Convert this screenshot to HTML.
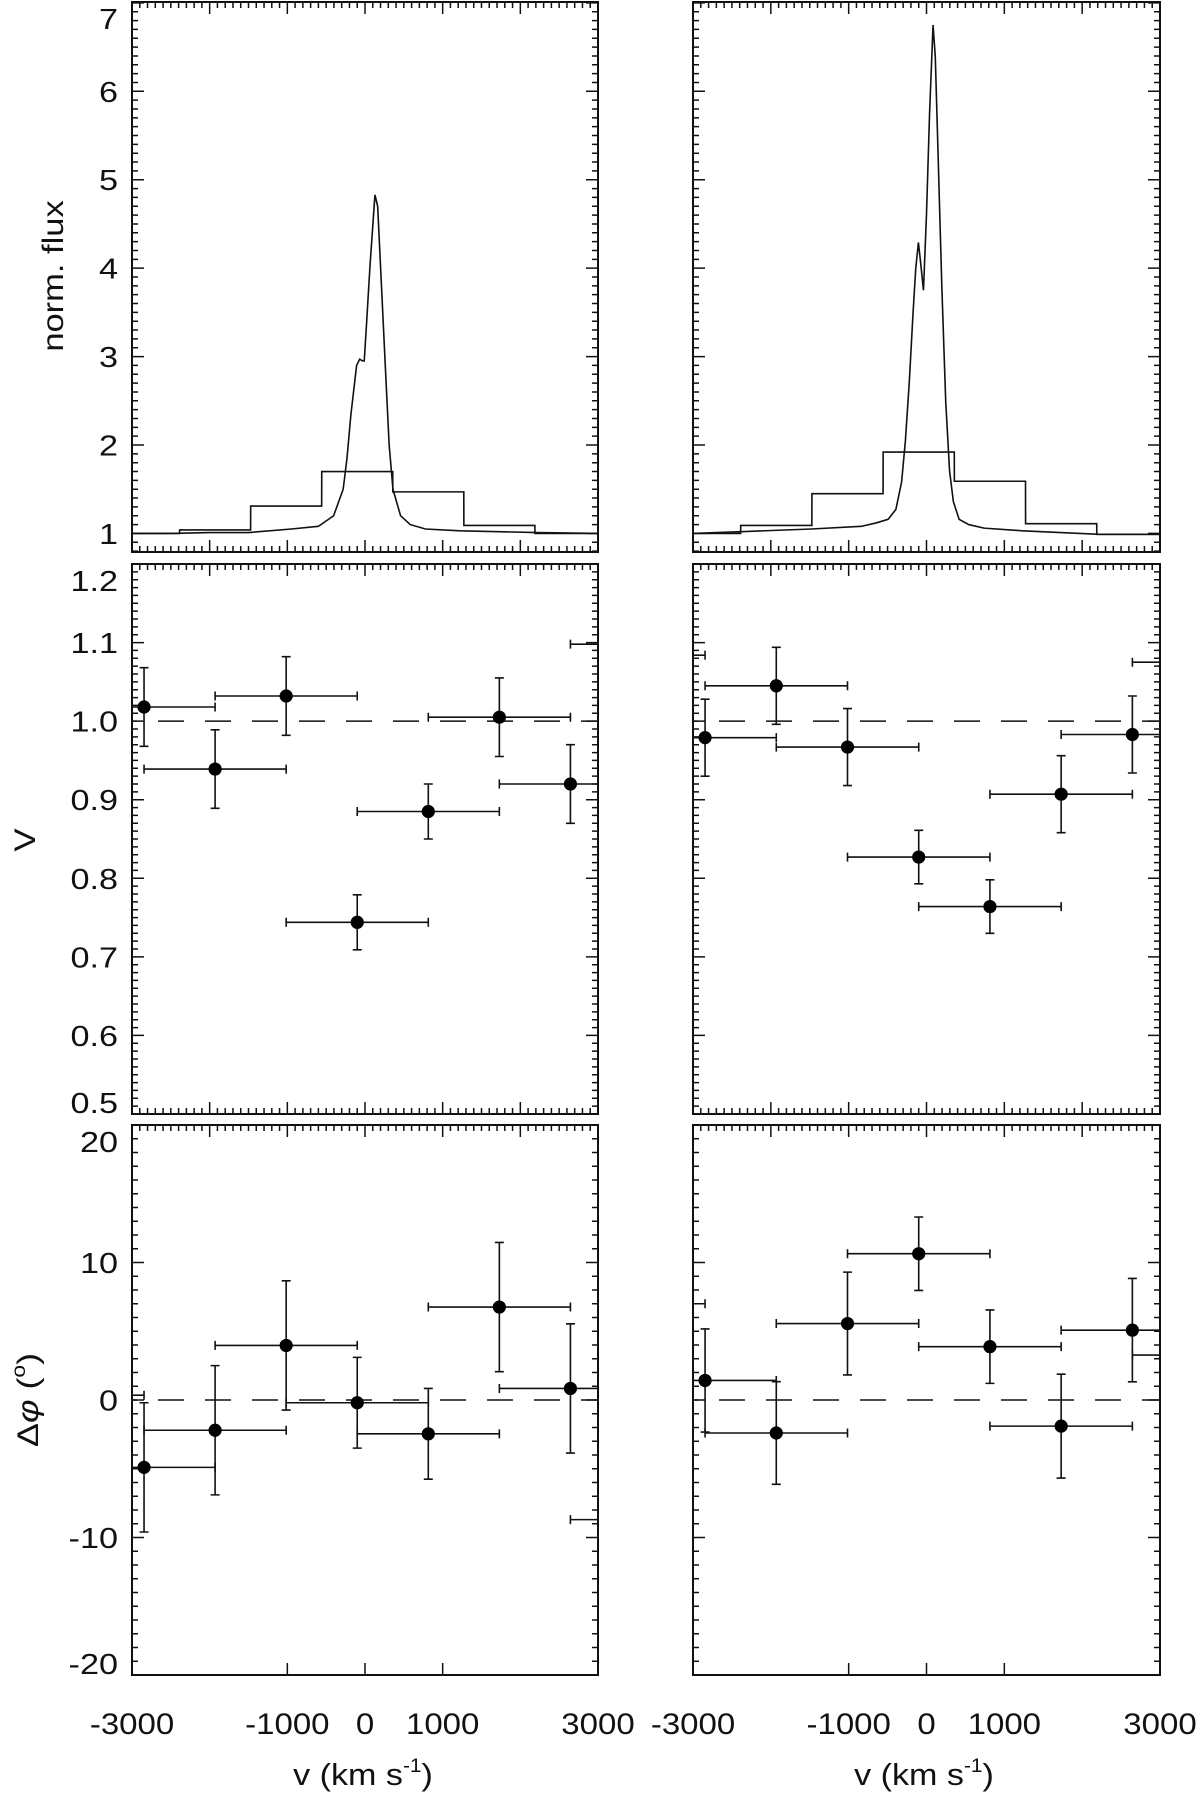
<!DOCTYPE html>
<html><head><meta charset="utf-8"><style>
html,body{margin:0;padding:0;background:#fff;}
svg{display:block;font-family:"Liberation Sans",sans-serif;}
</style></head><body>
<svg id="chart" width="1200" height="1793" viewBox="0 0 1200 1793" xmlns="http://www.w3.org/2000/svg"></svg>
<script>
// ---- data ----
const vCenters = [-2845, -1930, -1015, -100, 815, 1730, 2645];
const vHalfWidth = 915;
const binHalf = 457;
const vOut = [-3760, 3560];

const leftFluxBins = [1.0, 1.04, 1.31, 1.70, 1.47, 1.09, 1.0];
const rightFluxBins = [1.0, 1.09, 1.45, 1.92, 1.59, 1.11, 0.99];

const leftSpecV = [-3000,-2500,-2000,-1500,-947,-601,-404,-281,-232,-182,-108,-69,-30,-10,15,64,128,163,212,261,311,360,458,582,779,1223,2209,3000];
const leftSpecF = [1.0,1.0,1.01,1.01,1.05,1.08,1.2,1.5,1.85,2.34,2.9,2.97,2.95,2.95,3.3,4.02,4.83,4.7,3.8,2.9,2.0,1.5,1.2,1.1,1.05,1.03,1.01,1.0];
const rightSpecV = [-3000,-2381,-1479,-838,-641,-493,-394,-320,-271,-222,-173,-138,-104,-74,-39,0,39,84,113,148,197,247,296,345,419,542,739,1232,2218,3000];
const rightSpecF = [1.0,1.02,1.05,1.08,1.12,1.16,1.27,1.58,2.05,2.7,3.49,4.0,4.29,4.05,3.75,4.61,5.74,6.75,6.39,5.31,3.79,2.49,1.71,1.36,1.16,1.10,1.06,1.03,0.99,0.99];

const leftVis = [1.018, 0.939, 1.032, 0.744, 0.885, 1.005, 0.920];
const leftVisErr = [0.05, 0.05, 0.05, 0.035, 0.035, 0.05, 0.05];
const leftVisOut = [null, 1.098];
const rightVis = [0.979, 1.045, 0.967, 0.827, 0.764, 0.907, 0.983];
const rightVisErr = [0.049, 0.049, 0.049, 0.034, 0.034, 0.049, 0.049];
const rightVisOut = [1.084, 1.075];

const leftPhi = [-4.9, -2.2, 3.97, -0.2, -2.46, 6.76, 0.84];
const leftPhiErr = [4.7, 4.7, 4.7, 3.3, 3.3, 4.7, 4.7];
const leftPhiOut = [0.35, -8.7];
const rightPhi = [1.42, -2.4, 5.56, 10.64, 3.88, -1.9, 5.08];
const rightPhiErr = [3.75, 3.73, 3.74, 2.67, 2.67, 3.78, 3.76];
const rightPhiOut = [7.0, 3.27];

const fluxTicks = [1, 2, 3, 4, 5, 6, 7];
const visTicks = [0.5, 0.6, 0.7, 0.8, 0.9, 1.0, 1.1, 1.2];
const phiTicks = [-20, -10, 0, 10, 20];
const xTickLabels = [-3000, -1000, 0, 1000, 3000];

// ---- layout ----
const NS = "http://www.w3.org/2000/svg";
const svg = document.getElementById("chart");
const cols = [{x0: 132, x1: 598}, {x0: 693, x1: 1160}];
const rows = [
  {y0: 2, y1: 552, d0: 0.79, d1: 7.01, key: "flux"},
  {y0: 564, y1: 1114, d0: 0.5, d1: 1.2, key: "vis"},
  {y0: 1125, y1: 1675, d0: -20, d1: 20, key: "phi"}
];
function mk(tag, attrs, parent) {
  const e = document.createElementNS(NS, tag);
  for (const k in attrs) e.setAttribute(k, attrs[k]);
  (parent || svg).appendChild(e);
  return e;
}
function xs(c, v) { return c.x0 + (v + 3000) / 6000 * (c.x1 - c.x0); }
function ys(r, d) { return r.y1 - (d - r.d0) / (r.d1 - r.d0) * (r.y1 - r.y0); }

const defs = mk("defs", {});
let clipId = 0;

function panel(ci, ri) {
  const c = cols[ci], r = rows[ri];
  const g = mk("g", {});
  
  
  const cp = mk("clipPath", {id: "cp" + (++clipId)}, defs);
  mk("rect", {x: c.x0, y: r.y0, width: c.x1 - c.x0, height: r.y1 - r.y0}, cp);
  const inner = mk("g", {"clip-path": "url(#cp" + clipId + ")"}, g);
  return {g, inner, c, r};
}

function ticks(p) {
  const {g, c, r} = p;
  let d = "";
  for (let v = -3000; v <= 3000; v += 100) {
    const major = v % 1000 === 0;
    const L = major ? 12 : 6;
    const x = xs(c, v);
    if (r.key !== "phi") {
      d += `M${x},${r.y1}v${-L}`;
    } else if (major && Math.abs(v) <= 1000) {
      d += `M${x},${r.y1}v${-12}`;
    }
    d += `M${x},${r.y0}v${L}`;
  }
  let step, majStep;
  if (r.key === "flux") { step = 0.1; majStep = 1; }
  else if (r.key === "vis") { step = 0.01; majStep = 0.1; }
  else { step = 1; majStep = 10; }
  const n0 = Math.ceil(r.d0 / step - 1e-6), n1 = Math.floor(r.d1 / step + 1e-6);
  for (let n = n0; n <= n1; n++) {
    const v = n * step;
    const q = v / majStep;
    const major = Math.abs(q - Math.round(q)) < 1e-6;
    const L = major ? 12 : 6;
    const y = ys(r, v);
    d += `M${c.x0},${y}h${L}M${c.x1},${y}h${-L}`;
  }
  const t = mk("path", {d, stroke: "#111", "stroke-width": 1.5, fill: "none"}, g);
  
  
  const f = mk("rect", {x: c.x0, y: r.y0, width: c.x1 - c.x0, height: r.y1 - r.y0, fill: "none", stroke: "#111", "stroke-width": 2}, g);
  
  
}

function spectrum(p, sv, sf, bins) {
  const {inner, c, r} = p;
  let d = "";
  sv.forEach((v, i) => { d += (i ? "L" : "M") + xs(c, v) + "," + ys(r, sf[i]); });
  const l = mk("path", {d, stroke: "#111", "stroke-width": 1.6, fill: "none"}, inner);
  
  
  let h = "";
  bins.forEach((b, i) => {
    const xa = xs(c, vCenters[i] - binHalf), xb = xs(c, vCenters[i] + binHalf);
    const y = ys(r, b);
    h += (i ? "L" : "M") + (i ? xa : c.x0 - 5) + "," + y + "L" + (i === bins.length - 1 ? c.x1 + 5 : xb) + "," + y;
  });
  const hp = mk("path", {d: h, stroke: "#111", "stroke-width": 1.6, fill: "none"}, inner);
  
  
}

function dashed(p, val) {
  const {inner, c, r} = p;
  const l = mk("line", {x1: c.x0, x2: c.x1, y1: ys(r, val), y2: ys(r, val), stroke: "#111", "stroke-width": 1.5, "stroke-dasharray": "26 21", "stroke-dashoffset": "-26"}, inner);
  
  
}

function errPoint(p, v, val, err, showPoint) {
  const {inner, c, r} = p;
  const g = mk("g", {}, inner);
  
  
  const x = xs(c, v), y = ys(r, val);
  const xa = xs(c, v - vHalfWidth), xb = xs(c, v + vHalfWidth);
  let d = `M${xa},${y}H${xb}M${xa},${y - 4.5}v9M${xb},${y - 4.5}v9`;
  if (showPoint) {
    const ya = ys(r, val + err), yb = ys(r, val - err);
    d += `M${x},${ya}V${yb}M${x - 4.5},${ya}h9M${x - 4.5},${yb}h9`;
  }
  mk("path", {d, stroke: "#111", "stroke-width": 1.6, fill: "none"}, g);
  if (showPoint) mk("circle", {cx: x, cy: y, r: 6.6, fill: "#000"}, g);
}

function points(p, vals, errs, outs) {
  vals.forEach((val, i) => errPoint(p, vCenters[i], val, errs[i], true));
  outs.forEach((val, i) => { if (val !== null) errPoint(p, vOut[i], val, 0, false); });
}

for (let ci = 0; ci < 2; ci++) {
  const pf = panel(ci, 0);
  spectrum(pf, ci ? rightSpecV : leftSpecV, ci ? rightSpecF : leftSpecF, ci ? rightFluxBins : leftFluxBins);
  ticks(pf);
  const pv = panel(ci, 1);
  dashed(pv, 1.0);
  points(pv, ci ? rightVis : leftVis, ci ? rightVisErr : leftVisErr, ci ? rightVisOut : leftVisOut);
  ticks(pv);
  const pp = panel(ci, 2);
  dashed(pp, 0);
  points(pp, ci ? rightPhi : leftPhi, ci ? rightPhiErr : leftPhiErr, ci ? rightPhiOut : leftPhiOut);
  ticks(pp);
}

function txt(html, x, y, size, sx, anchor, rot) {
  const e = mk("text", {x: 0, y: 0, "text-anchor": anchor, "font-size": size, fill: "#111",
    transform: `translate(${x} ${y}) rotate(${rot}) scale(${sx} 1)`});
  e.innerHTML = html;
  return e;
}

function yLabels(r, arr, fmt) {
  const cap = 21;
  arr.forEach(v => {
    const ty = ys(r, v);
    let base = ty + cap / 2;
    if (base - cap < r.y0 + 6) base = r.y0 + 6 + cap;
    if (base > r.y1 - 1) base = r.y1 - 1;
    const t = txt(fmt(v), 118, base, 29, 1.18, "end", 0);
    
    
  });
}
yLabels(rows[0], fluxTicks, v => String(v));
yLabels(rows[1], visTicks, v => v.toFixed(1));
yLabels(rows[2], phiTicks, v => String(v));

cols.forEach(c => {
  xTickLabels.forEach(v => {
    const t = txt(String(v), xs(c, v), 1734, 30, 1.1, "middle", 0);
    
    
  });
});

const t1 = txt("norm. flux", 63, 276, 30, 1.15, "middle", -90);


const t2 = txt("V", 35, 840, 30, 1.15, "middle", -90);


const t3 = txt('Δ<tspan font-style="italic">φ</tspan> (<tspan font-size="19" dy="-13">o</tspan><tspan dy="13">)</tspan>', 38, 1400, 30, 1.2, "middle", -90);


[363, 924].forEach(cx => {
  const t = txt('v (km s<tspan font-size="19" dy="-13">-1</tspan><tspan dy="13">)</tspan>', cx, 1785, 31, 1.1, "middle", 0);
  
  
});
</script>
</body></html>
